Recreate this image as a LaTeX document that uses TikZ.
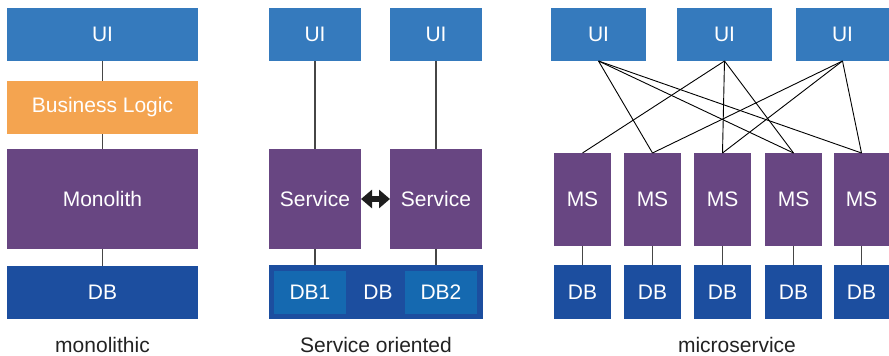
\documentclass[tikz,border=0pt]{standalone}
\usepackage{fontspec}
\setmainfont{Liberation Sans}
\usetikzlibrary{arrows.meta}
\definecolor{uiblue}{RGB}{53,122,189}
\definecolor{blorange}{RGB}{244,164,80}
\definecolor{svpurple}{RGB}{104,70,130}
\definecolor{dbblue}{RGB}{28,78,159}
\definecolor{dbinner}{RGB}{21,105,176}
\definecolor{linegray}{RGB}{70,70,70}
\definecolor{labelgray}{RGB}{34,34,34}
\definecolor{arrowblack}{RGB}{30,30,30}
\begin{document}
\begin{tikzpicture}[x=1pt,y=-1pt,
  box/.style={rectangle, inner sep=0pt, outer sep=0pt, text=white, font=\fontsize{21}{25}\selectfont},
  uibox/.style={box, fill=uiblue},
  blbox/.style={box, fill=blorange},
  svbox/.style={box, fill=svpurple},
  dbbox/.style={box, fill=dbblue},
  dbin/.style={box, fill=dbinner},
  caption/.style={inner sep=0pt, text=labelgray, font=\fontsize{21}{25}\selectfont},
  link/.style={draw=linegray, line width=1.2pt},
  mslink/.style={draw=black, line width=0.9pt},
  dbl/.style={draw=arrowblack, line width=6pt, {Triangle[width=18pt,length=11pt]}-{Triangle[width=18pt,length=11pt]}}
]
\useasboundingbox (0,0) rectangle (889,356);

% ---------- monolithic ----------
\node[uibox, minimum width=191pt, minimum height=53pt] (mui) at (102.5,34.5) {UI};
\node[blbox, minimum width=191pt, minimum height=53pt] (mbl) at (102.5,107.5) {Business Logic};
\node[svbox, minimum width=191pt, minimum height=100pt] (mmono) at (102.5,199) {Monolith};
\node[dbbox, minimum width=191pt, minimum height=53pt] (mdb) at (102.5,292.5) {DB};
\draw[link] (mui) -- (mbl);
\draw[link] (mbl) -- (mmono);
\draw[link] (mmono) -- (mdb);
\node[caption] (capm) at (102.5,345) {monolithic};

% ---------- service oriented ----------
\node[uibox, minimum width=92pt, minimum height=53pt] (sui1) at (315,34.5) {UI};
\node[uibox, minimum width=92pt, minimum height=53pt] (sui2) at (436,34.5) {UI};
\node[svbox, minimum width=92pt, minimum height=100pt] (ssv1) at (315,199) {Service};
\node[svbox, minimum width=92pt, minimum height=100pt] (ssv2) at (436,199) {Service};
\node[dbbox, minimum width=214pt, minimum height=54pt] (sdb) at (376,292) {};
\node[dbin, minimum width=72pt, minimum height=43pt] (sdb1) at (310,292.5) {DB1};
\node[dbin, minimum width=72pt, minimum height=43pt] (sdb2) at (441,292.5) {DB2};
\node[box] (sdbt) at (378,292) {DB};
\draw[link] (sui1) -- (ssv1);
\draw[link] (sui2) -- (ssv2);
\draw[link] (ssv1.south) -- (ssv1.south |- sdb.north);
\draw[link] (ssv2.south) -- (ssv2.south |- sdb.north);
\draw[dbl] (ssv1.east) -- (ssv2.west);
\node[caption] (caps) at (376,345) {Service oriented};

% ---------- microservice ----------
\node[uibox, minimum width=95pt, minimum height=53pt] (u1) at (598.5,34.5) {UI};
\node[uibox, minimum width=95pt, minimum height=53pt] (u2) at (724.5,34.5) {UI};
\node[uibox, minimum width=93pt, minimum height=53pt] (u3) at (842.5,34.5) {UI};

\node[svbox, minimum width=57pt, minimum height=93pt] (ms1) at (582.5,199.5) {MS};
\node[svbox, minimum width=57pt, minimum height=93pt] (ms2) at (652.5,199.5) {MS};
\node[svbox, minimum width=57pt, minimum height=93pt] (ms3) at (722.5,199.5) {MS};
\node[svbox, minimum width=57pt, minimum height=93pt] (ms4) at (793.5,199.5) {MS};
\node[svbox, minimum width=55pt, minimum height=93pt] (ms5) at (861.5,199.5) {MS};

\node[dbbox, minimum width=57pt, minimum height=54pt] (d1) at (582.5,292) {DB};
\node[dbbox, minimum width=57pt, minimum height=54pt] (d2) at (652.5,292) {DB};
\node[dbbox, minimum width=57pt, minimum height=54pt] (d3) at (722.5,292) {DB};
\node[dbbox, minimum width=57pt, minimum height=54pt] (d4) at (793.5,292) {DB};
\node[dbbox, minimum width=55pt, minimum height=54pt] (d5) at (861.5,292) {DB};

\foreach \i in {1,...,5} {\draw[link] (ms\i) -- (d\i);}

\draw[mslink] (u1.south) -- (ms2.north);
\draw[mslink] (u1.south) -- (ms4.north);
\draw[mslink] (u1.south) -- (ms5.north);
\draw[mslink] (u2.south) -- (ms1.north);
\draw[mslink] (u2.south) -- (ms3.north);
\draw[mslink] (u2.south) -- (ms4.north);
\draw[mslink] (u3.south) -- (ms2.north);
\draw[mslink] (u3.south) -- (ms3.north);
\draw[mslink] (u3.south) -- (ms5.north);
\node[caption] (capms) at (737,345) {microservice};
\end{tikzpicture}
\end{document}
